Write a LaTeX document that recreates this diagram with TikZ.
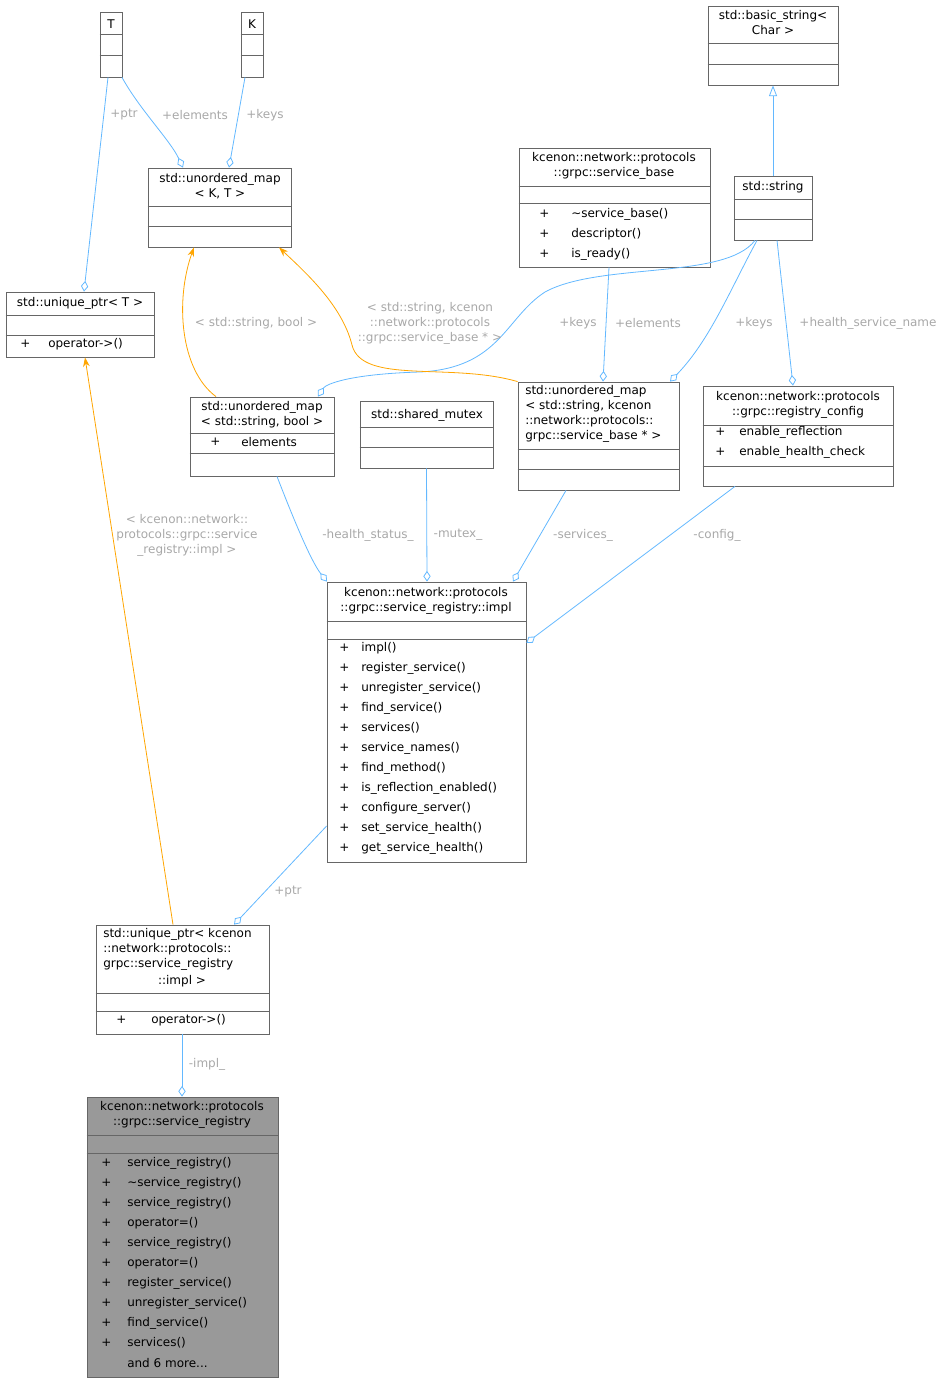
\documentclass[tikz,border=0pt]{standalone}
\usepackage{fontspec}
\setmainfont{DejaVu Sans}
\usetikzlibrary{arrows.meta,calc,fit}
\definecolor{edgeblue}{HTML}{63B8FF}
\definecolor{tmplorange}{HTML}{FFA500}
\definecolor{lblgray}{HTML}{A8A8A8}
\definecolor{boxgray}{HTML}{666666}
\tikzset{
  cls/.style={draw=boxgray, inner sep=0pt, line width=0.6pt},
  txt/.style={inner sep=0pt, font=\fontsize{9}{11.25}\selectfont, align=center},
  mem/.style={inner sep=0pt, font=\fontsize{9}{11.25}\selectfont, anchor=west},
  lbl/.style={inner sep=0pt, font=\fontsize{9}{11.25}\selectfont, text=lblgray, align=center},
  uses/.style={draw=edgeblue, line width=0.6pt, -{Diamond[open, length=8pt, width=5.5pt]}},
  tmpl/.style={draw=tmplorange, line width=0.6pt, -{Stealth[length=7pt, width=5pt]}},
  inh/.style={draw=edgeblue, line width=0.6pt, -{Triangle[open, length=8pt, width=6pt]}},
}
\begin{document}
\begin{tikzpicture}[x=0.75pt, y=-0.75pt]
\useasboundingbox (0,0) rectangle (949,1383);

% Classes
\node[cls, fit={(100,12) (122,77)}] (T) {};
\node[txt] at (111,24) {T};
\draw[boxgray] (T.west |- 0,34) -- (T.east |- 0,34) (T.west |- 0,55) -- (T.east |- 0,55);

\node[cls, fit={(241,12) (263,77)}] (K) {};
\node[txt] at (252,24) {K};
\draw[boxgray] (K.west |- 0,34) -- (K.east |- 0,34) (K.west |- 0,55) -- (K.east |- 0,55);

\node[cls, fit={(708,6) (838,85)}] (bstr) {};
\node[txt] at (773,23) {std::basic\_string<\\Char >};
\draw[boxgray] (bstr.west |- 0,43) -- (bstr.east |- 0,43) (bstr.west |- 0,64) -- (bstr.east |- 0,64);

\node[cls, fit={(148,168) (291,247)}] (mapKT) {};
\node[txt] at (220,186) {std::unordered\_map\\< K, T >};
\draw[boxgray] (mapKT.west |- 0,206) -- (mapKT.east |- 0,206) (mapKT.west |- 0,226) -- (mapKT.east |- 0,226);

\node[cls, fit={(519,148) (710,267)}] (sbase) {};
\node[txt] at (614,166) {kcenon::network::protocols\\::grpc::service\_base};
\draw[boxgray] (sbase.west |- 0,186) -- (sbase.east |- 0,186) (sbase.west |- 0,203) -- (sbase.east |- 0,203);
\foreach \m [count=\i from 0] in {\textasciitilde service\_base(), descriptor(), is\_ready()} {
  \node[mem] at (539,214+20*\i) {+};
  \node[mem] at (571,214+20*\i) {\m};
}

\node[cls, fit={(734,176) (812,240)}] (str) {};
\node[txt] at (773,187) {std::string};
\draw[boxgray] (str.west |- 0,199) -- (str.east |- 0,199) (str.west |- 0,219) -- (str.east |- 0,219);

\node[cls, fit={(6,292) (154,357)}] (uptrT) {};
\node[txt] at (80,303) {std::unique\_ptr< T >};
\draw[boxgray] (uptrT.west |- 0,315) -- (uptrT.east |- 0,315) (uptrT.west |- 0,335) -- (uptrT.east |- 0,335);
\node[mem] at (20,344) {+};
\node[mem] at (48,344) {operator->()};

\node[cls, fit={(190,397) (334,476)}] (mapbool) {};
\node[txt] at (262,415) {std::unordered\_map\\< std::string, bool >};
\draw[boxgray] (mapbool.west |- 0,433) -- (mapbool.east |- 0,433) (mapbool.west |- 0,453) -- (mapbool.east |- 0,453);
\node[mem] at (210,442) {+};
\node[mem] at (241,442) {elements};

\node[cls, fit={(360,401) (493,468)}] (mutex) {};
\node[txt] at (427,415) {std::shared\_mutex};
\draw[boxgray] (mutex.west |- 0,427) -- (mutex.east |- 0,427) (mutex.west |- 0,447) -- (mutex.east |- 0,447);

\node[cls, fit={(518,382) (679,490)}] (mapsvc) {};
\node[txt, align=left, anchor=north west] at (525,385) {std::unordered\_map\\< std::string, kcenon\\::network::protocols::\\grpc::service\_base * >};
\draw[boxgray] (mapsvc.west |- 0,449) -- (mapsvc.east |- 0,449) (mapsvc.west |- 0,469) -- (mapsvc.east |- 0,469);

\node[cls, fit={(703,386) (893,486)}] (rcfg) {};
\node[txt] at (798,405) {kcenon::network::protocols\\::grpc::registry\_config};
\draw[boxgray] (rcfg.west |- 0,425) -- (rcfg.east |- 0,425) (rcfg.west |- 0,466) -- (rcfg.east |- 0,466);
\foreach \m [count=\i from 0] in {enable\_reflection, enable\_health\_check} {
  \node[mem] at (715,432+20*\i) {+};
  \node[mem] at (739,432+20*\i) {\m};
}

\node[cls, fit={(327,582) (526,862)}] (impl) {};
\node[txt] at (426,601) {kcenon::network::protocols\\::grpc::service\_registry::impl};
\draw[boxgray] (impl.west |- 0,621) -- (impl.east |- 0,621) (impl.west |- 0,639) -- (impl.east |- 0,639);
\foreach \m [count=\i from 0] in {impl(), register\_service(), unregister\_service(), find\_service(), services(), service\_names(), find\_method(), is\_reflection\_enabled(), configure\_server(), set\_service\_health(), get\_service\_health()} {
  \node[mem] at (339,648+20*\i) {+};
  \node[mem] at (361,648+20*\i) {\m};
}

\node[cls, fit={(96,925) (269,1034)}] (uptrimpl) {};
\node[txt, align=left, anchor=north west] at (103,928) {std::unique\_ptr< kcenon\\::network::protocols::\\grpc::service\_registry};
\node[txt] at (182,981) {::impl >};
\draw[boxgray] (uptrimpl.west |- 0,993) -- (uptrimpl.east |- 0,993) (uptrimpl.west |- 0,1011) -- (uptrimpl.east |- 0,1011);
\node[mem] at (116,1020) {+};
\node[mem] at (151,1020) {operator->()};

\node[cls, fill=black!40, fit={(87,1097) (278,1377)}] (reg) {};
\node[txt] at (182,1115) {kcenon::network::protocols\\::grpc::service\_registry};
\draw[boxgray] (reg.west |- 0,1135) -- (reg.east |- 0,1135) (reg.west |- 0,1153) -- (reg.east |- 0,1153);
\foreach \m [count=\i from 0] in {service\_registry(), \textasciitilde service\_registry(), service\_registry(), operator=(), service\_registry(), operator=(), register\_service(), unregister\_service(), find\_service(), services()} {
  \node[mem] at (101,1163+20*\i) {+};
  \node[mem] at (127,1163+20*\i) {\m};
}
\node[mem] at (127,1363) {and 6 more...};

% Connectors
\draw[uses] (T.south -| 108,0) -- (uptrT.north -| 84,0);
\node[lbl] at (124,115) {+ptr};
\draw[uses] (T.south -| 122,0) .. controls (140,110) and (170,140) .. (mapKT.north -| 183,0);
\node[lbl] at (195,115) {+elements};
\draw[uses] (K.south -| 245,0) -- (mapKT.north -| 229,0);
\node[lbl] at (265,115) {+keys};

\draw[inh] (str.north -| 773,0) -- (bstr.south -| 773,0);

\draw[uses] (str.south -| 755,0) .. controls (725,280) and (600,262) .. (545,292)
  .. controls (505,318) and (500,368) .. (420,372) .. controls (350,374) and (326,384) .. (mapbool.north -| 318,0);
\node[lbl] at (578,323) {+keys};
\draw[uses] (sbase.south -| 609,0) -- (mapsvc.north -| 603,0);
\node[lbl] at (648,323) {+elements};
\draw[uses] (str.south -| 757,0) .. controls (730,290) and (710,340) .. (mapsvc.north -| 670,0);
\node[lbl] at (754,323) {+keys};
\draw[uses] (str.south -| 777,0) -- (rcfg.north -| 793,0);
\node[lbl] at (868,323) {+health\_service\_name};

\draw[tmpl] (mapbool.north -| 216,0) .. controls (180,370) and (175,300) .. (mapKT.south -| 194,0);
\node[lbl] at (256,323) {< std::string, bool >};
\draw[tmpl] (mapsvc.north west) .. controls (450,362) and (362,385) .. (352,345)
  .. controls (342,305) and (305,272) .. (mapKT.south -| 279,0);
\node[lbl] at (430,323) {< std::string, kcenon\\::network::protocols\\::grpc::service\_base * >};

\draw[uses] (mapbool.south -| 277,0) .. controls (290,510) and (310,560) .. (impl.north -| 327,0);
\node[lbl] at (368,535) {-health\_status\_};
\draw[uses] (mutex.south) -- (impl.north -| 427,0);
\node[lbl] at (458,535) {-mutex\_};
\draw[uses] (mapsvc.south -| 566,0) -- (impl.north -| 513,0);
\node[lbl] at (583,535) {-services\_};
\draw[uses] (rcfg.south -| 735,0) -- (impl.east |- 0,643);
\node[lbl] at (717,535) {-config\_};

\draw[tmpl] (uptrimpl.north -| 173,0) -- (uptrT.south -| 85,0);
\node[lbl] at (187,535) {< kcenon::network::\\protocols::grpc::service\\\_registry::impl >};
\draw[uses] (impl.west |- 0,826) -- (uptrimpl.north -| 234,0);
\node[lbl] at (288,892) {+ptr};
\draw[uses] (uptrimpl.south -| 182,0) -- (reg.north -| 182,0);
\node[lbl] at (207,1064) {-impl\_};
\end{tikzpicture}
\end{document}
